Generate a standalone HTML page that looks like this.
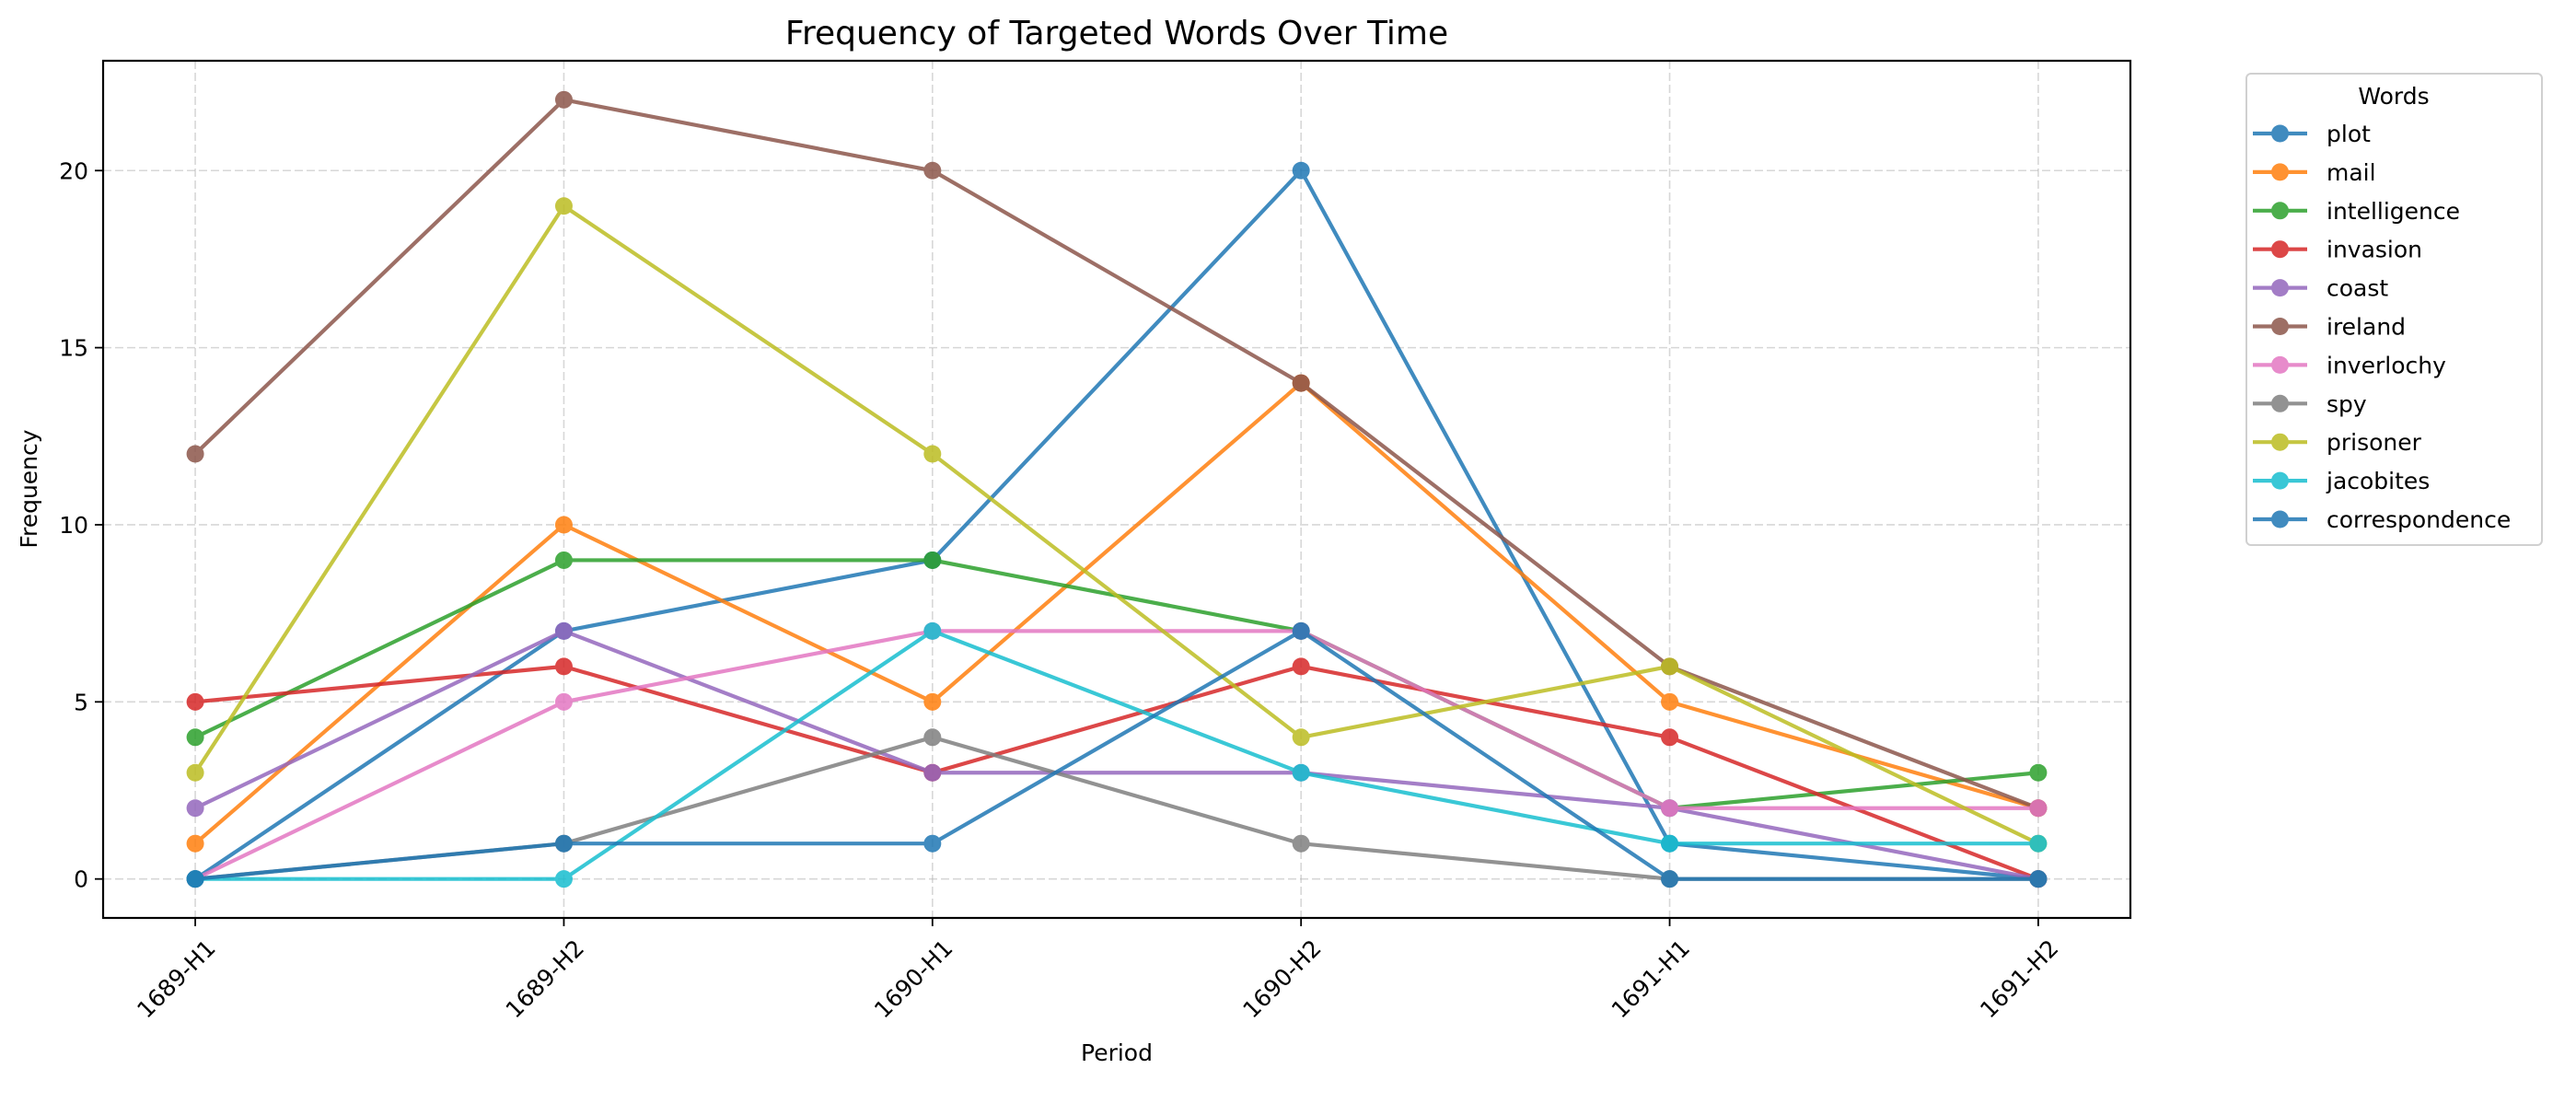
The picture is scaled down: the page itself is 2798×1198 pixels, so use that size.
<!DOCTYPE html>
<html><head><meta charset="utf-8"><style>
body{margin:0;background:#fff;}
svg{display:block;font-family:"DejaVu Sans","Liberation Sans",sans-serif;}
</style></head><body>
<svg id="chart" width="2798" height="1198" viewBox="0 0 2798 1198" xmlns="http://www.w3.org/2000/svg">
<rect width="2798" height="1198" fill="#fff"/>
<text x="1213" y="48" font-size="36" text-anchor="middle" fill="#000">Frequency of Targeted Words Over Time</text>
<g id="grid"></g>
<g id="series"></g>
<rect x="112" y="66" width="2202" height="931" fill="none" stroke="#000" stroke-width="2.2"/>
<g id="axes"></g>
<text x="1213" y="1152" font-size="25" text-anchor="middle">Period</text>
<text transform="translate(40,531) rotate(-90)" font-size="25" text-anchor="middle">Frequency</text>
<g id="legend"></g>
</svg>
<script>
const categories=["1689-H1","1689-H2","1690-H1","1690-H2","1691-H1","1691-H2"];
const words=["plot","mail","intelligence","invasion","coast","ireland","inverlochy","spy","prisoner","jacobites","correspondence"];
const plotVals=[0,7,9,20,1,0];
const mailVals=[1,10,5,14,5,2];
const intelligenceVals=[4,9,9,7,2,3];
const invasionVals=[5,6,3,6,4,0];
const coastVals=[2,7,3,3,2,0];
const irelandVals=[12,22,20,14,6,2];
const inverlochyVals=[0,5,7,7,2,2];
const spyVals=[0,1,4,1,0,0];
const prisonerVals=[3,19,12,4,6,1];
const jacobitesVals=[0,0,7,3,1,1];
const correspondenceVals=[0,1,1,7,0,0];
const yTicks=[0,5,10,15,20];
const seriesVals=[plotVals,mailVals,intelligenceVals,invasionVals,coastVals,irelandVals,inverlochyVals,spyVals,prisonerVals,jacobitesVals,correspondenceVals];
const colors=["#1f77b4","#ff7f0e","#2ca02c","#d62728","#9467bd","#8c564b","#e377c2","#7f7f7f","#bcbd22","#17becf","#1f77b4"];
const NS="http://www.w3.org/2000/svg";
const L=112,R=2314,T=66,B=997;
let maxV=0;seriesVals.forEach(s=>s.forEach(v=>{if(v>maxV)maxV=v;}));
let minV=0;
const yPad=(maxV-minV)*0.05, y0=minV-yPad, y1=maxV+yPad;
const n=categories.length, xPad=(n-1)*0.05;
function xs(i){return L+(i+xPad)/((n-1)+2*xPad)*(R-L);}
function ys(v){return B-(v-y0)/(y1-y0)*(B-T);}
function mk(tag,attrs,parent){const e=document.createElementNS(NS,tag);for(const k in attrs)e.setAttribute(k,attrs[k]);parent.appendChild(e);return e;}
const grid=document.getElementById('grid'),axes=document.getElementById('axes'),ser=document.getElementById('series'),leg=document.getElementById('legend');
categories.forEach((c,i)=>{
 const x=xs(i);
 const g=mk('line',{x1:x,x2:x,y1:T,y2:B,stroke:'#b0b0b0','stroke-opacity':0.5,'stroke-width':1.6,'stroke-dasharray':'9,4'},grid);
 
 
 const t=mk('line',{x1:x,x2:x,y1:B,y2:B+9,stroke:'#000','stroke-width':1.8},axes);
 
 
 const lb=mk('text',{'font-size':25,'text-anchor':'end',transform:`translate(${x+11},${B+22}) rotate(-45)`,dy:'0.7em'},axes);
 lb.textContent=c;
 
 
});
yTicks.forEach(v=>{
 const y=ys(v);
 const g=mk('line',{x1:L,x2:R,y1:y,y2:y,stroke:'#b0b0b0','stroke-opacity':0.5,'stroke-width':1.6,'stroke-dasharray':'9,4'},grid);
 
 
 const t=mk('line',{x1:L-9,x2:L,y1:y,y2:y,stroke:'#000','stroke-width':1.8},axes);
 
 
 const lb=mk('text',{x:L-16,y:y+9,'font-size':25,'text-anchor':'end'},axes);
 lb.textContent=v;
 
 
});
seriesVals.forEach((vals,si)=>{
 const g=mk('g',{opacity:0.85},ser);
 
 
 const pts=vals.map((v,i)=>xs(i)+','+ys(v)).join(' ');
 const pl=mk('polyline',{points:pts,fill:'none',stroke:colors[si],'stroke-width':4.2,'stroke-linejoin':'round'},g);
 
 
 vals.forEach((v,i)=>{
  const c=mk('circle',{cx:xs(i),cy:ys(v),r:9.5,fill:colors[si]},g);
  
  
 });
});
const lb=mk('rect',{x:2440,y:80,width:321,height:512,rx:5,fill:'#fff','fill-opacity':0.8,stroke:'#d0d0d0','stroke-width':2},leg);


const lt=mk('text',{x:2600,y:113,'font-size':25,'text-anchor':'middle'},leg);
lt.textContent='Words';


words.forEach((w,i)=>{
 const y=145+i*41.9;
 const g=mk('g',{},leg);
 
 
 const gg=mk('g',{opacity:0.85},g);
 mk('line',{x1:2447,x2:2506,y1:y,y2:y,stroke:colors[i],'stroke-width':4.2},gg);
 mk('circle',{cx:2476.5,cy:y,r:9.5,fill:colors[i]},gg);
 const t=mk('text',{x:2527,y:y+9,'font-size':25},g);
 t.textContent=w;
});
</script>
</body></html>
